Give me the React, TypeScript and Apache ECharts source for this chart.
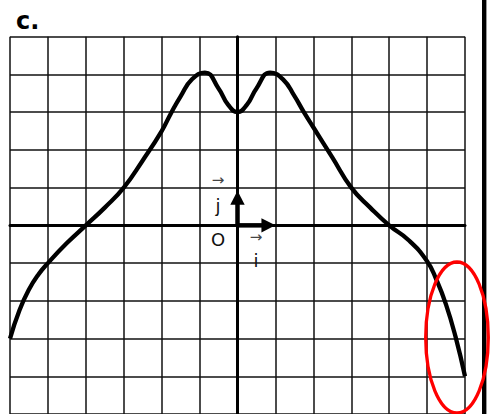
import React, { useEffect, useRef } from "react";
import * as echarts from "echarts";

// Curve (x, y in grid units)
const curveX = [-6, -5.75, -5.5, -5.25, -5, -4.5, -4, -3.5, -3, -2.5, -2, -1.75, -1.5, -1.2, -0.86, -0.5, -0.25, 0, 0.25, 0.5, 0.86, 1.2, 1.5, 1.75, 2, 2.5, 3, 3.5, 4, 4.5, 5, 5.25, 5.5, 5.75, 6];
const curveY = [-3, -2.25, -1.7, -1.3, -1, -0.47, 0, 0.47, 1, 1.72, 2.5, 2.98, 3.42, 3.87, 4.05, 3.63, 3.2, 3.0, 3.2, 3.63, 4.05, 3.87, 3.43, 3.0, 2.6, 1.8, 1, 0.47, 0, -0.38, -0.95, -1.45, -2.1, -2.95, -4];

const xRange = [-6, 6];
const yRange = [-5, 5];
const vectorI = [1, 0];
const vectorJ = [0, 0.92];
const titleText = "c.";

export default function App() {
  const ref = useRef<HTMLDivElement>(null);
  useEffect(() => {
    if (!ref.current) return;
    const chart = echarts.init(ref.current, undefined, { renderer: "svg" });
    const data = curveX.map((x, i) => [x, curveY[i]]);
    const gridLine = { show: true, lineStyle: { color: "#111", width: 1.5 } };
    chart.setOption({
      animation: false,
      grid: { left: 10, top: 36.7, width: 455, height: 378 },
      xAxis: {
        type: "value",
        min: xRange[0],
        max: xRange[1],
        interval: 1,
        axisLabel: { show: false },
        axisTick: { show: false },
        axisLine: { show: true, onZero: true, lineStyle: { color: "#000", width: 3 } },
        splitLine: gridLine,
      },
      yAxis: {
        type: "value",
        min: yRange[0],
        max: yRange[1],
        interval: 1,
        axisLabel: { show: false },
        axisTick: { show: false },
        axisLine: { show: true, onZero: true, lineStyle: { color: "#000", width: 3 } },
        splitLine: gridLine,
      },
      series: [
        {
          type: "line",
          data,
          smooth: 0.5,
          symbol: "none",
          lineStyle: { color: "#000", width: 4.3 },
          z: 5,
        },
      ],
    });

    const o = chart.convertToPixel({ gridIndex: 0 }, [0, 0]) as number[];
    const it = chart.convertToPixel({ gridIndex: 0 }, vectorI) as number[];
    const jt = chart.convertToPixel({ gridIndex: 0 }, vectorJ) as number[];
    const hl = 14; // arrowhead length
    const hw = 7.2; // arrowhead half width
    const font = "DejaVu Sans";
    chart.setOption({
      graphic: [
        { type: "line", shape: { x1: o[0], y1: o[1], x2: it[0] - hl + 1, y2: it[1] }, style: { stroke: "#000", lineWidth: 4.5 }, z: 10 },
        { type: "polygon", shape: { points: [[it[0], it[1]], [it[0] - hl, it[1] - hw], [it[0] - hl, it[1] + hw]] }, style: { fill: "#000" }, z: 10 },
        { type: "line", shape: { x1: o[0], y1: o[1], x2: jt[0], y2: jt[1] + hl - 1 }, style: { stroke: "#000", lineWidth: 4.5 }, z: 10 },
        { type: "polygon", shape: { points: [[jt[0], jt[1]], [jt[0] - hw, jt[1] + hl], [jt[0] + hw, jt[1] + hl]] }, style: { fill: "#000" }, z: 10 },
        { type: "text", x: o[0] - 19.5, y: o[1] - 45, style: { text: "→", font: `15px '${font}'`, fill: "#444", align: "center", verticalAlign: "middle" }, z: 10 },
        { type: "text", x: o[0] - 19.5, y: o[1] - 20, style: { text: "j", font: `18px '${font}'`, fill: "#111", align: "center", verticalAlign: "middle" }, z: 10 },
        { type: "text", x: o[0] - 19.5, y: o[1] + 14.5, style: { text: "O", font: `18px '${font}'`, fill: "#111", align: "center", verticalAlign: "middle" }, z: 10 },
        { type: "text", x: o[0] + 18.5, y: o[1] + 12, style: { text: "→", font: `15px '${font}'`, fill: "#444", align: "center", verticalAlign: "middle" }, z: 10 },
        { type: "text", x: o[0] + 18.5, y: o[1] + 35, style: { text: "i", font: `18px '${font}'`, fill: "#111", align: "center", verticalAlign: "middle" }, z: 10 },
        { type: "text", x: 16, y: 20.5, style: { text: titleText, font: `bold 24px '${font}'`, fill: "#000", align: "left", verticalAlign: "middle" }, z: 10 },
        { type: "rect", shape: { x: 482, y: 0, width: 4.4, height: 414 }, style: { fill: "#000" }, z: 10 },
        { type: "ellipse", shape: { cx: 457, cy: 337.5, rx: 31.3, ry: 75.5 }, style: { fill: "none", stroke: "#ff0000", lineWidth: 3.3 }, z: 11 },
      ],
    });
    return () => chart.dispose();
  }, []);
  return <div ref={ref} style={{ position: "absolute", left: 0, top: 0, width: 491, height: 414, background: "#fff" }} />;
}
